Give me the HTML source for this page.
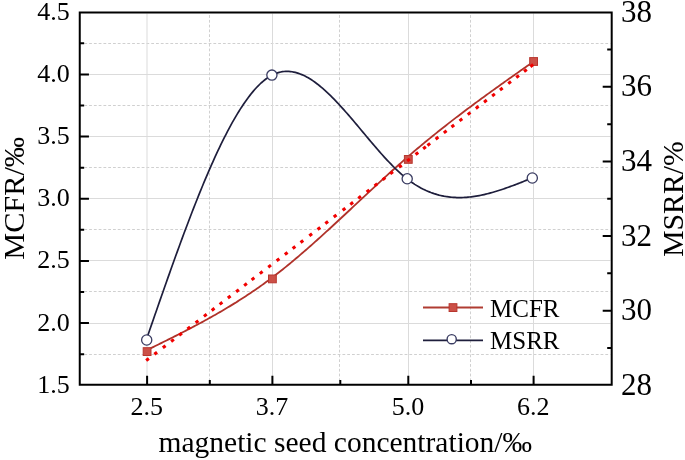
<!DOCTYPE html>
<html><head><meta charset="utf-8"><style>html,body{margin:0;padding:0;background:#fff;width:685px;height:460px;overflow:hidden}svg{display:block;will-change:transform}text{font-family:"Liberation Serif",serif}</style></head>
<body>
<svg width="685" height="460" viewBox="0 0 685 460">
<rect width="685" height="460" fill="#fff"/>
<line x1="81" y1="74.5" x2="610.5" y2="74.5" stroke="#dbdbdb" stroke-width="1"/>
<line x1="81" y1="136.5" x2="610.5" y2="136.5" stroke="#dbdbdb" stroke-width="1"/>
<line x1="81" y1="198.5" x2="610.5" y2="198.5" stroke="#dbdbdb" stroke-width="1"/>
<line x1="81" y1="260.5" x2="610.5" y2="260.5" stroke="#dbdbdb" stroke-width="1"/>
<line x1="81" y1="323.5" x2="610.5" y2="323.5" stroke="#dbdbdb" stroke-width="1"/>
<line x1="79.54" y1="43.5" x2="610.5" y2="43.5" stroke="#d0d0d0" stroke-width="1" stroke-dasharray="2.8 1.98"/>
<line x1="79.54" y1="105.5" x2="610.5" y2="105.5" stroke="#d0d0d0" stroke-width="1" stroke-dasharray="2.8 1.98"/>
<line x1="79.54" y1="167.5" x2="610.5" y2="167.5" stroke="#d0d0d0" stroke-width="1" stroke-dasharray="2.8 1.98"/>
<line x1="79.54" y1="229.5" x2="610.5" y2="229.5" stroke="#d0d0d0" stroke-width="1" stroke-dasharray="2.8 1.98"/>
<line x1="79.54" y1="291.5" x2="610.5" y2="291.5" stroke="#d0d0d0" stroke-width="1" stroke-dasharray="2.8 1.98"/>
<line x1="79.54" y1="354.5" x2="610.5" y2="354.5" stroke="#d0d0d0" stroke-width="1" stroke-dasharray="2.8 1.98"/>
<line x1="147.0" y1="13.5" x2="147.0" y2="383.5" stroke="#dbdbdb" stroke-width="1"/>
<line x1="272.5" y1="13.5" x2="272.5" y2="383.5" stroke="#dbdbdb" stroke-width="1"/>
<line x1="408.5" y1="13.5" x2="408.5" y2="383.5" stroke="#dbdbdb" stroke-width="1"/>
<line x1="533.5" y1="13.5" x2="533.5" y2="383.5" stroke="#dbdbdb" stroke-width="1"/>
<line x1="209.5" y1="15.1" x2="209.5" y2="383.5" stroke="#d0d0d0" stroke-width="1" stroke-dasharray="2.8 1.98"/>
<line x1="339.5" y1="15.1" x2="339.5" y2="383.5" stroke="#d0d0d0" stroke-width="1" stroke-dasharray="2.8 1.98"/>
<line x1="470.5" y1="15.1" x2="470.5" y2="383.5" stroke="#d0d0d0" stroke-width="1" stroke-dasharray="2.8 1.98"/>
<path d="M147.10,350.00 L148.72,349.21 L150.33,348.41 L151.95,347.62 L153.57,346.83 L155.19,346.03 L156.80,345.24 L158.42,344.44 L160.04,343.64 L161.65,342.84 L163.27,342.04 L164.89,341.24 L166.51,340.44 L168.12,339.64 L169.74,338.83 L171.36,338.02 L172.97,337.21 L174.59,336.40 L176.21,335.58 L177.83,334.76 L179.44,333.94 L181.06,333.12 L182.68,332.29 L184.29,331.46 L185.91,330.63 L187.53,329.79 L189.15,328.96 L190.76,328.11 L192.38,327.26 L194.00,326.41 L195.61,325.56 L197.23,324.70 L198.85,323.83 L200.47,322.96 L202.08,322.09 L203.70,321.21 L205.32,320.33 L206.93,319.44 L208.55,318.54 L210.17,317.64 L211.79,316.74 L213.40,315.83 L215.02,314.91 L216.64,313.99 L218.25,313.06 L219.87,312.12 L221.49,311.18 L223.11,310.23 L224.72,309.28 L226.34,308.31 L227.96,307.34 L229.57,306.37 L231.19,305.38 L232.81,304.39 L234.43,303.39 L236.04,302.39 L237.66,301.37 L239.28,300.35 L240.89,299.32 L242.51,298.28 L244.13,297.23 L245.75,296.18 L247.36,295.11 L248.98,294.04 L250.60,292.96 L252.22,291.86 L253.83,290.76 L255.45,289.65 L257.07,288.53 L258.68,287.40 L260.30,286.26 L261.92,285.11 L263.54,283.95 L265.15,282.78 L266.77,281.60 L268.39,280.41 L270.00,279.20 L271.62,277.99 L273.24,276.76 L274.86,275.53 L276.47,274.28 L278.09,273.02 L279.71,271.76 L281.32,270.48 L282.94,269.19 L284.56,267.89 L286.18,266.59 L287.79,265.27 L289.41,263.95 L291.03,262.61 L292.64,261.27 L294.26,259.92 L295.88,258.56 L297.50,257.19 L299.11,255.82 L300.73,254.43 L302.35,253.04 L303.96,251.64 L305.58,250.24 L307.20,248.83 L308.82,247.41 L310.43,245.99 L312.05,244.56 L313.67,243.12 L315.28,241.68 L316.90,240.23 L318.52,238.78 L320.14,237.32 L321.75,235.86 L323.37,234.40 L324.99,232.92 L326.60,231.45 L328.22,229.97 L329.84,228.49 L331.46,227.00 L333.07,225.51 L334.69,224.02 L336.31,222.52 L337.92,221.02 L339.54,219.52 L341.16,218.02 L342.78,216.52 L344.39,215.01 L346.01,213.50 L347.63,211.99 L349.24,210.48 L350.86,208.97 L352.48,207.46 L354.10,205.94 L355.71,204.43 L357.33,202.92 L358.95,201.40 L360.56,199.89 L362.18,198.38 L363.80,196.87 L365.42,195.35 L367.03,193.85 L368.65,192.34 L370.27,190.83 L371.88,189.33 L373.50,187.82 L375.12,186.32 L376.74,184.83 L378.35,183.33 L379.97,181.84 L381.59,180.35 L383.20,178.86 L384.82,177.38 L386.44,175.90 L388.06,174.43 L389.67,172.96 L391.29,171.49 L392.91,170.03 L394.52,168.58 L396.14,167.13 L397.76,165.68 L399.38,164.24 L400.99,162.81 L402.61,161.38 L404.23,159.95 L405.84,158.54 L407.46,157.13 L409.08,155.73 L410.70,154.33 L412.31,152.94 L413.93,151.56 L415.55,150.18 L417.16,148.81 L418.78,147.45 L420.40,146.09 L422.02,144.74 L423.63,143.40 L425.25,142.06 L426.87,140.73 L428.48,139.40 L430.10,138.08 L431.72,136.76 L433.34,135.45 L434.95,134.15 L436.57,132.85 L438.19,131.56 L439.81,130.27 L441.42,128.99 L443.04,127.71 L444.66,126.44 L446.27,125.17 L447.89,123.91 L449.51,122.65 L451.13,121.39 L452.74,120.14 L454.36,118.90 L455.98,117.66 L457.59,116.42 L459.21,115.19 L460.83,113.96 L462.45,112.74 L464.06,111.52 L465.68,110.30 L467.30,109.09 L468.91,107.88 L470.53,106.68 L472.15,105.47 L473.77,104.28 L475.38,103.08 L477.00,101.89 L478.62,100.70 L480.23,99.51 L481.85,98.33 L483.47,97.15 L485.09,95.97 L486.70,94.80 L488.32,93.63 L489.94,92.46 L491.55,91.29 L493.17,90.13 L494.79,88.96 L496.41,87.80 L498.02,86.65 L499.64,85.49 L501.26,84.34 L502.87,83.18 L504.49,82.03 L506.11,80.88 L507.73,79.73 L509.34,78.59 L510.96,77.44 L512.58,76.30 L514.19,75.16 L515.81,74.01 L517.43,72.87 L519.05,71.73 L520.66,70.59 L522.28,69.46 L523.90,68.32 L525.51,67.18 L527.13,66.04 L528.75,64.91 L530.37,63.77 L531.98,62.64 L533.60,61.50" fill="none" stroke="#b0322a" stroke-width="1.8"/>
<path d="M146.80,338.40 L148.41,333.73 L150.03,329.06 L151.64,324.40 L153.26,319.73 L154.87,315.08 L156.49,310.42 L158.10,305.78 L159.71,301.15 L161.33,296.52 L162.94,291.91 L164.56,287.31 L166.17,282.72 L167.78,278.15 L169.40,273.60 L171.01,269.06 L172.63,264.55 L174.24,260.05 L175.86,255.57 L177.47,251.12 L179.08,246.69 L180.70,242.29 L182.31,237.91 L183.93,233.57 L185.54,229.25 L187.16,224.96 L188.77,220.70 L190.38,216.48 L192.00,212.29 L193.61,208.14 L195.23,204.02 L196.84,199.94 L198.46,195.90 L200.07,191.91 L201.68,187.95 L203.30,184.04 L204.91,180.17 L206.53,176.35 L208.14,172.57 L209.75,168.84 L211.37,165.17 L212.98,161.54 L214.60,157.97 L216.21,154.45 L217.83,150.98 L219.44,147.57 L221.05,144.22 L222.67,140.92 L224.28,137.69 L225.90,134.52 L227.51,131.41 L229.13,128.36 L230.74,125.38 L232.35,122.46 L233.97,119.61 L235.58,116.83 L237.20,114.12 L238.81,111.48 L240.43,108.92 L242.04,106.42 L243.65,104.01 L245.27,101.67 L246.88,99.40 L248.50,97.22 L250.11,95.12 L251.72,93.09 L253.34,91.15 L254.95,89.30 L256.57,87.53 L258.18,85.84 L259.80,84.25 L261.41,82.74 L263.02,81.32 L264.64,80.00 L266.25,78.77 L267.87,77.63 L269.48,76.58 L271.10,75.64 L272.71,74.79 L274.32,74.04 L275.94,73.39 L277.55,72.83 L279.17,72.36 L280.78,71.99 L282.39,71.70 L284.01,71.51 L285.62,71.39 L287.24,71.36 L288.85,71.42 L290.47,71.55 L292.08,71.77 L293.69,72.06 L295.31,72.42 L296.92,72.86 L298.54,73.37 L300.15,73.95 L301.77,74.60 L303.38,75.32 L304.99,76.10 L306.61,76.94 L308.22,77.84 L309.84,78.81 L311.45,79.83 L313.07,80.91 L314.68,82.04 L316.29,83.22 L317.91,84.45 L319.52,85.74 L321.14,87.06 L322.75,88.44 L324.36,89.86 L325.98,91.32 L327.59,92.82 L329.21,94.36 L330.82,95.93 L332.44,97.54 L334.05,99.18 L335.66,100.86 L337.28,102.56 L338.89,104.29 L340.51,106.05 L342.12,107.83 L343.74,109.63 L345.35,111.45 L346.96,113.29 L348.58,115.15 L350.19,117.03 L351.81,118.92 L353.42,120.82 L355.04,122.73 L356.65,124.64 L358.26,126.57 L359.88,128.50 L361.49,130.43 L363.11,132.36 L364.72,134.30 L366.33,136.23 L367.95,138.16 L369.56,140.08 L371.18,141.99 L372.79,143.89 L374.41,145.79 L376.02,147.67 L377.63,149.53 L379.25,151.38 L380.86,153.21 L382.48,155.02 L384.09,156.81 L385.71,158.57 L387.32,160.32 L388.93,162.03 L390.55,163.71 L392.16,165.37 L393.78,166.99 L395.39,168.58 L397.01,170.13 L398.62,171.64 L400.23,173.12 L401.85,174.55 L403.46,175.94 L405.08,177.29 L406.69,178.59 L408.30,179.84 L409.92,181.04 L411.53,182.20 L413.15,183.31 L414.76,184.37 L416.38,185.38 L417.99,186.35 L419.60,187.27 L421.22,188.15 L422.83,188.99 L424.45,189.78 L426.06,190.53 L427.68,191.23 L429.29,191.90 L430.90,192.53 L432.52,193.11 L434.13,193.66 L435.75,194.17 L437.36,194.64 L438.97,195.07 L440.59,195.46 L442.20,195.82 L443.82,196.15 L445.43,196.44 L447.05,196.69 L448.66,196.91 L450.27,197.10 L451.89,197.26 L453.50,197.38 L455.12,197.47 L456.73,197.53 L458.35,197.57 L459.96,197.57 L461.57,197.54 L463.19,197.49 L464.80,197.41 L466.42,197.30 L468.03,197.17 L469.65,197.01 L471.26,196.83 L472.87,196.62 L474.49,196.39 L476.10,196.14 L477.72,195.86 L479.33,195.56 L480.94,195.25 L482.56,194.91 L484.17,194.55 L485.79,194.17 L487.40,193.78 L489.02,193.36 L490.63,192.93 L492.24,192.48 L493.86,192.02 L495.47,191.54 L497.09,191.05 L498.70,190.54 L500.32,190.02 L501.93,189.49 L503.54,188.95 L505.16,188.39 L506.77,187.82 L508.39,187.25 L510.00,186.66 L511.62,186.06 L513.23,185.46 L514.84,184.85 L516.46,184.23 L518.07,183.60 L519.69,182.97 L521.30,182.34 L522.91,181.70 L524.53,181.05 L526.14,180.41 L527.76,179.76 L529.37,179.11 L530.99,178.45 L532.60,177.80" fill="none" stroke="#1e1e3c" stroke-width="1.7"/>
<circle cx="146.7" cy="340.0" r="5.1" fill="#fff" stroke="#3a3c62" stroke-width="1.3"/>
<circle cx="271.9" cy="75.1" r="5.1" fill="#fff" stroke="#3a3c62" stroke-width="1.3"/>
<circle cx="407.2" cy="178.8" r="5.1" fill="#fff" stroke="#3a3c62" stroke-width="1.3"/>
<circle cx="532.3" cy="178.0" r="5.1" fill="#fff" stroke="#3a3c62" stroke-width="1.3"/>
<rect x="143.2" y="347.7" width="7.8" height="7.8" fill="#cc5047" stroke="#b8362e" stroke-width="1"/>
<rect x="268.5" y="275.0" width="7.8" height="7.8" fill="#cc5047" stroke="#b8362e" stroke-width="1"/>
<rect x="404.4" y="155.5" width="7.8" height="7.8" fill="#cc5047" stroke="#b8362e" stroke-width="1"/>
<rect x="529.7" y="57.6" width="7.8" height="7.8" fill="#cc5047" stroke="#b8362e" stroke-width="1"/>
<path d="M146.15,360.57L148.85,358.51M154.35,354.30L157.05,352.24M162.85,347.80L165.55,345.74M171.15,341.45L173.85,339.39M179.15,335.34L181.85,333.27M187.45,328.99L190.15,326.92M195.65,322.72L198.35,320.65M203.95,316.37L206.65,314.30M211.75,310.40L214.45,308.34M219.65,304.36L222.35,302.30M227.85,298.09L230.55,296.02M236.15,291.74L238.85,289.68M244.15,285.62L246.85,283.56M251.65,279.89L254.35,277.82M259.85,273.62L262.55,271.55M268.25,267.19L270.95,265.13M276.65,260.77L279.35,258.70M284.85,254.50L287.55,252.43M292.65,248.53L295.35,246.47M300.55,242.49L303.25,240.42M309.35,235.76L312.05,233.69M317.55,229.49L320.25,227.42M325.35,223.52L328.05,221.46M333.75,217.10L336.45,215.03M342.65,210.29L345.35,208.23M350.35,204.40L353.05,202.34M358.25,198.36L360.95,196.29M366.65,191.94L369.35,189.87M374.55,185.89L377.25,183.83M382.65,179.70L385.35,177.63M390.25,173.89L392.95,171.82M398.95,167.23L401.65,165.17M407.15,160.96L409.85,158.90M415.55,154.54L418.25,152.47M423.15,148.72L425.85,146.66M427.45,145.44L430.15,143.37M435.65,139.16L438.35,137.10M443.85,132.89L446.55,130.83M451.45,127.08L454.15,125.02M459.55,120.89L462.25,118.82M467.75,114.61L470.45,112.55M475.85,108.42L478.55,106.35M484.05,102.15L486.75,100.08M492.15,95.95L494.85,93.89M499.95,89.99L502.65,87.92M508.25,83.64L510.95,81.57M516.25,77.52L518.95,75.46M524.05,71.56L526.75,69.49M530.45,66.66L533.15,64.60" stroke="#f20000" stroke-width="3.1" fill="none"/>
<path d="M79.75,12.5H611.7V384.75H79.75Z" fill="none" stroke="#000" stroke-width="2" stroke-linejoin="miter" stroke-linecap="square"/>
<path d="M79.75,323.10H88.95M79.75,260.92H88.95M79.75,198.75H88.95M79.75,136.57H88.95M79.75,74.40H88.95M79.75,354.19H84.15M79.75,292.01H84.15M79.75,229.84H84.15M79.75,167.66H84.15M79.75,105.49H84.15M79.75,43.31H84.15M611.7,310.66H602.7M611.7,236.05H602.7M611.7,161.45H602.7M611.7,86.84H602.7M611.7,347.97H607.2M611.7,273.36H607.2M611.7,198.75H607.2M611.7,124.14H607.2M611.7,49.53H607.2M147.1,384.75V375.75M272.4,384.75V375.75M408.3,384.75V375.75M533.6,384.75V375.75M209.8,384.75V379.95M340.3,384.75V379.95M471.0,384.75V379.95" stroke="#000" stroke-width="2" fill="none"/>
<g font-family="Liberation Serif" fill="#000"><text x="69.8" y="392.7" text-anchor="end" font-size="26">1.5</text><text x="69.8" y="330.5" text-anchor="end" font-size="26">2.0</text><text x="69.8" y="268.3" text-anchor="end" font-size="26">2.5</text><text x="69.8" y="206.2" text-anchor="end" font-size="26">3.0</text><text x="69.8" y="144.0" text-anchor="end" font-size="26">3.5</text><text x="69.8" y="81.8" text-anchor="end" font-size="26">4.0</text><text x="69.8" y="19.6" text-anchor="end" font-size="26">4.5</text><text x="621" y="394.9" font-size="31">28</text><text x="621" y="320.3" font-size="31">30</text><text x="621" y="245.7" font-size="31">32</text><text x="621" y="171.0" font-size="31">34</text><text x="621" y="96.4" font-size="31">36</text><text x="621" y="21.8" font-size="31">38</text><text x="146.8" y="414.5" text-anchor="middle" font-size="26">2.5</text><text x="272.1" y="414.5" text-anchor="middle" font-size="26">3.7</text><text x="408.0" y="414.5" text-anchor="middle" font-size="26">5.0</text><text x="533.3" y="414.5" text-anchor="middle" font-size="26">6.2</text><text x="345.3" y="452" text-anchor="middle" font-size="29.5">magnetic seed concentration/‰</text><text transform="translate(23.5,259.8) rotate(-90)" font-size="30.3">MCFR/‰</text><text transform="translate(683,256.8) rotate(-90)" font-size="29.7">MSRR/%</text><text x="490" y="317" font-size="25">MCFR</text><text x="490" y="349" font-size="25">MSRR</text></g>
<line x1="423" y1="307.6" x2="483" y2="307.6" stroke="#b03c32" stroke-width="2"/>
<rect x="449.1" y="303.7" width="7.8" height="7.8" fill="#cc5047" stroke="#b8362e" stroke-width="1"/>
<line x1="423" y1="340.4" x2="483" y2="340.4" stroke="#1e1e3c" stroke-width="1.7"/>
<circle cx="451.7" cy="339.2" r="4.6" fill="#fff" stroke="#3a3c62" stroke-width="1.4"/>
</svg>
</body></html>
